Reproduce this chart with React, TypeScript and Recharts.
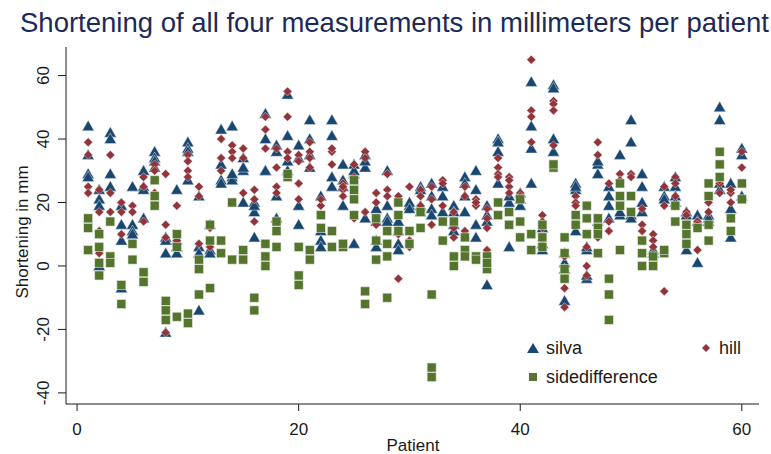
import React from 'react';
import { ScatterChart, Scatter, XAxis, YAxis, Legend } from 'recharts';

// values per patient (patient = index + 1)
const silva: number[][] = [
  [44, 35, 29, 28], [24, 21, 19, 0], [42, 40, 29, 25], [19, 13, 8, -7], [25, 13, 11, 10],
  [30, 25, 24, 15], [36, 34, 31, 33], [9, 4, 8, -21], [24, 8, 4, 6], [39, 37, 27, 36],
  [22, 6, 4, -14], [13, 5, 4], [43, 32, 27, 26], [44, 28, 27, 29], [30, 20, 34, 31],
  [20, 17, 9, 19], [48, 40, 30, 30], [38, 22, 15, 36], [54, 41, 30, 33], [38, 19, 13, 34],
  [46, 40, 31, 35], [22, 11, 8, 6], [46, 41, 28, 25], [32, 25, 19, 27], [32, 29, 7, 30],
  [31, 35, 15, 33], [18, 14, 8, 6], [30, 19, 15, 14], [11, 7, 5, 14], [19, 20, 18],
  [25, 24, 19, 17], [26, 18, 16, 22], [25, 17, 22], [19, 11, 17, 13], [28, 22, 17, 26],
  [30, 24, 13, 9], [19, -6, 16, 14], [40, 39, 36, 26], [20, 6, 22], [23, 19, 21],
  [58, 44, 37, 26], [7, 5, 12], [57, 40, 36, 56], [4, 1, -11, -1], [26, 24, 11, 25],
  [5, -4, -3, 6], [32, 29, 33, 14], [25, 22, 19, 15], [35, 16, 17], [46, 39, 16, 15],
  [29, 25, 20, 17], [5, 4], [25, 22, 21], [28, 25, 22, 20], [17, 5, 16],
  [16, 14, 1], [16, 14, 15], [50, 46, 26, 24], [26, 18, 9], [37, 35, 22],
];

const hill: number[][] = [
  [39, 35, 25, 23], [24, 17, 11, 4], [35, 23, 17, 14], [20, 17, 10], [19, 17],
  [28, 25, 14], [32, 23, 30], [29, 13, 9, -21], [19, 6, 8], [35, 33, 30, 28],
  [25, 22, 7], [12, 6], [40, 34, 30], [38, 36, 34], [37, 34, 23],
  [24, 21, 14], [47, 43, 37], [37, 31, 25, 23], [55, 47, 36, 34], [35, 33, 26, 21],
  [39, 36, 34, 31], [19, 21], [36, 32, 37], [26, 24, 22, 25], [32, 28, 15],
  [36, 34, 17], [23, 20, 13], [24, 22, 29], [22, -4, 10], [25, 6, 8],
  [24, 22, 19], [25, 21, 13], [27, 26, 19], [17, 12, 9], [25, 22, 11],
  [21, 19, 20], [18, 15, 12, 5], [34, 31, 29, 28], [28, 25, 23, 27], [23, 22],
  [65, 49, 47, 39], [16, 14, 12], [52, 51, 49, 38], [3, -7, -13, -4], [22, 20, 19],
  [6, 0, -3], [39, 35, 9], [26, 14, 11], [29, 27], [29, 28],
  [18, 13, 11], [10, 8, 6], [25, 19, -8], [28, 26, 22], [17, 13, 16],
  [14, 13, 5], [20, 17], [26, 23, 27], [23, 20, 24], [36, 31, 26],
];

const sidedifference: number[][] = [
  [15, 12, 5], [10, 6, 1, -3], [14, 3, 1], [-6, -12], [7, 2],
  [-2, -5], [27, 22, 19], [-11, -14, -17], [10, 6, -16], [-15, -18],
  [2, -1, -9], [13, 8, -7], [8, 4], [20, 2], [5, 2],
  [-10, -14], [7, 3, 0], [14, 11, 6], [28, 29], [6, -3, -6],
  [5, 2], [16, 12], [11, 6], [6, 7], [27, 24, 21, 16],
  [-8, -12], [15, 8, 2], [11, 7, 3, -10], [20, 16, 11], [11, 7],
  [17, 12], [-9, -32, -35], [14, 8], [14, 3, 0], [9, 5, 3],
  [3, 2], [3, -1, 1], [20, 16], [17, 13], [21, 14, 9],
  [10, 5], [13, 9, 6], [31, 32], [9, 4, -1, -4], [16, 13],
  [19, 15, 10], [15, 12, 10, 4], [-4, -9, -17], [26, 22, 19, 5], [22, 17],
  [8, 4, 0], [3, 0], [4, 5], [19, 14], [13, 7, 10],
  [12], [26, 22, 13, 8], [36, 32, 28], [15, 11], [26, 21],
];

const xTicks = [0, 20, 40, 60];
const yTicks = [-40, -20, 0, 20, 40, 60];

const NAVY = '#1a476f';
const MAROON = '#90353b';
const GREEN = '#55752f';
const INK = '#1a1a1a';
const FONT = '"Liberation Sans", Arial, sans-serif';

const toPoints = (rows: number[][]) =>
  rows.flatMap((vals, i) => vals.map((v) => ({ patient: i + 1, value: v })));

const Triangle = ({ cx, cy }: any) => (
  <polygon
    points={`${cx},${cy - 6} ${cx - 6},${cy + 4.5} ${cx + 6},${cy + 4.5}`}
    fill={NAVY}
    stroke="#dfe6ee"
    strokeWidth={0.5}
  />
);

const Diamond = ({ cx, cy }: any) => (
  <polygon
    points={`${cx},${cy - 4.5} ${cx + 4.5},${cy} ${cx},${cy + 4.5} ${cx - 4.5},${cy}`}
    fill={MAROON}
    stroke="#f0dede"
    strokeWidth={0.5}
  />
);

const Square = ({ cx, cy }: any) => (
  <rect x={cx - 4.5} y={cy - 4.5} width={9} height={9} fill={GREEN} stroke="#dfe8d6" strokeWidth={0.6} />
);

const XTick = ({ x, y, payload }: any) => (
  <text x={x} y={435} textAnchor="middle" fontSize={17} fontFamily={FONT} fill={INK}>
    {payload.value}
  </text>
);

const YTick = ({ y, payload }: any) => (
  <text
    x={49}
    y={y}
    transform={`rotate(-90 49 ${y})`}
    textAnchor="middle"
    fontSize={17}
    fontFamily={FONT}
    fill={INK}
  >
    {payload.value}
  </text>
);

const legendItem = (shape: React.ReactNode, label: string) => (
  <div style={{ display: 'flex', alignItems: 'center', height: 28 }}>
    <svg width={18} height={14}>{shape}</svg>
    <span style={{ marginLeft: 4 }}>{label}</span>
  </div>
);

const LegendBox = () => (
  <div style={{ fontFamily: FONT, fontSize: 18, color: INK, width: 240, position: 'relative' }}>
    <div style={{ position: 'absolute', left: 0, top: 0 }}>
      {legendItem(<polygon points="9,2 3,12 15,12" fill={NAVY} />, 'silva')}
    </div>
    <div style={{ position: 'absolute', left: 173, top: 0 }}>
      {legendItem(<polygon points="9,3 13,7 9,11 5,7" fill={MAROON} />, 'hill')}
    </div>
    <div style={{ position: 'absolute', left: 0, top: 29 }}>
      {legendItem(<rect x={5} y={3} width={8} height={8} fill={GREEN} />, 'sidedifference')}
    </div>
  </div>
);

export default function App() {
  return (
    <div style={{ position: 'fixed', left: 0, top: 0, width: 771, height: 454, background: '#ffffff' }}>
      <div
        style={{
          position: 'absolute',
          left: 20,
          top: 9,
          fontFamily: FONT,
          fontSize: 27.5,
          lineHeight: 1,
          color: '#1c2a58',
          whiteSpace: 'nowrap',
        }}
      >
        Shortening of all four measurements in millimeters per patient
      </div>
      <ScatterChart width={771} height={454} margin={{ top: 47, right: 12, bottom: 0, left: 0 }}>
        <XAxis
          type="number"
          dataKey="patient"
          domain={[-1, 61.55]}
          allowDataOverflow
          ticks={xTicks}
          tickSize={7}
          height={50}
          stroke={INK}
          tick={<XTick />}
          label={{
            content: () => (
              <text x={413} y={451} textAnchor="middle" fontSize={17} fontFamily={FONT} fill={INK}>
                Patient
              </text>
            ),
          }}
        />
        <YAxis
          type="number"
          dataKey="value"
          domain={[-43.5, 69]}
          allowDataOverflow
          ticks={yTicks}
          tickSize={8}
          width={66}
          stroke={INK}
          tick={<YTick />}
          label={{
            content: () => (
              <text x={28} y={232} transform="rotate(-90 28 232)" textAnchor="middle" fontSize={17} fontFamily={FONT} fill={INK}>
                Shortening in mm
              </text>
            ),
          }}
        />
        <Legend content={<LegendBox />} wrapperStyle={{ position: 'absolute', left: 524, top: 334, width: 240 }} />
        <Scatter name="silva" data={toPoints(silva)} shape={<Triangle />} isAnimationActive={false} />
        <Scatter name="hill" data={toPoints(hill)} shape={<Diamond />} isAnimationActive={false} />
        <Scatter name="sidedifference" data={toPoints(sidedifference)} shape={<Square />} isAnimationActive={false} />
      </ScatterChart>
    </div>
  );
}
